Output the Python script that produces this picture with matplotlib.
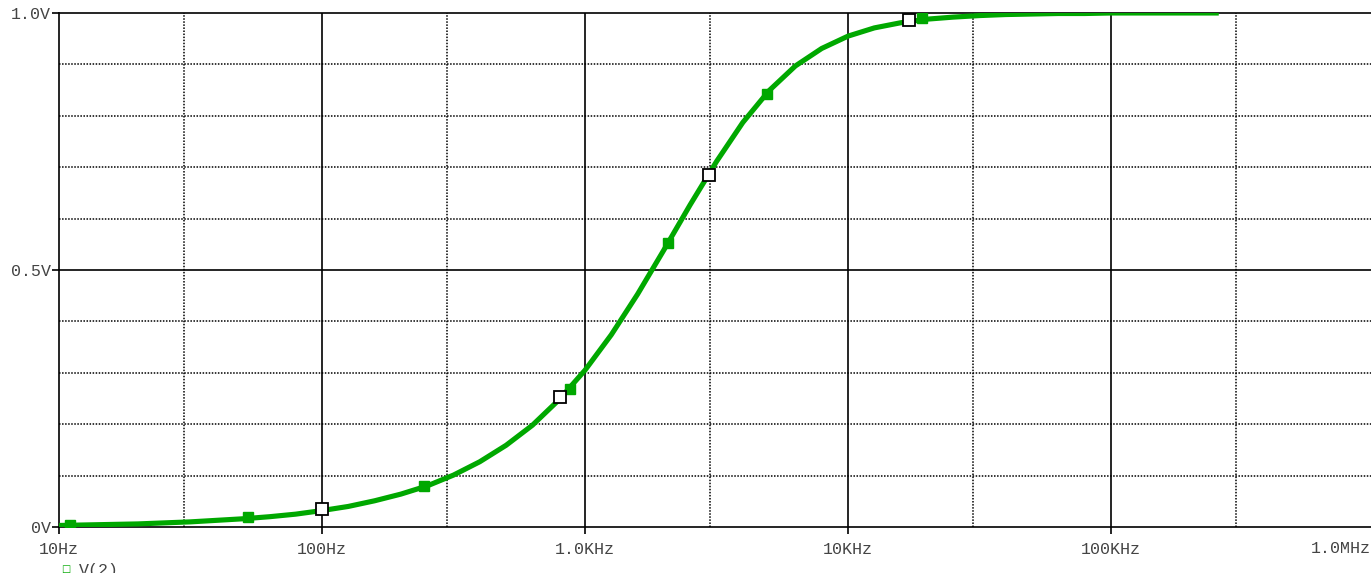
import matplotlib.pyplot as plt
import numpy as np

# trace V(2): sampled 10 points per decade from 10Hz to ~250kHz
freq = 10 ** (1 + np.arange(45) / 10)
v2 = [0.003, 0.004, 0.005, 0.006, 0.008, 0.010, 0.013, 0.016, 0.020, 0.025,
      0.032, 0.040, 0.051, 0.064, 0.080, 0.101, 0.127, 0.159, 0.198, 0.247,
      0.305, 0.374, 0.453, 0.539, 0.627, 0.711, 0.787, 0.849, 0.897, 0.931,
      0.955, 0.971, 0.981, 0.988, 0.992, 0.995, 0.997, 0.998, 0.999, 0.999,
      1.000, 1.000, 1.000, 1.000, 1.000]

# trace markers
green_mk_f = [11.0, 52.5, 244, 878, 2070, 4940, 19100]
green_mk_v = [0.004, 0.019, 0.080, 0.268, 0.553, 0.842, 0.990]
white_mk_f = [100, 800, 2950, 17100]
white_mk_v = [0.035, 0.253, 0.685, 0.986]

xticks = [10, 100, 1e3, 1e4, 1e5]
xtick_labels = ['10Hz', '100Hz', '1.0KHz', '10KHz', '100KHz']
yticks = [0, 0.5, 1.0]
ytick_labels = ['0V', '0.5V', '1.0V']

green = '#00a800'
mono = 'Liberation Mono'
txt = '#444444'

fig = plt.figure(figsize=(13.71, 5.73), dpi=100)
ax = fig.add_axes([59 / 1371, 1 - 527 / 573, 1 - 59 / 1371, 514 / 573])
ax.set_xscale('log')
ax.set_xlim(10, 10 ** (1 + 1312 / 263))
ax.set_ylim(0, 1.0)

# grid: solid at decades / 0.5V, dotted at 3x and every 0.1V
for d in [100, 1e3, 1e4, 1e5]:
    ax.axvline(d, color='black', lw=1.2, zorder=1)
for d in [30, 300, 3e3, 3e4, 3e5]:
    ax.axvline(d, color='black', lw=1.1, ls=(0, (1, 1)), zorder=1)
ax.axhline(0.5, color='black', lw=1.2, zorder=1)
for h in [0.1, 0.2, 0.3, 0.4, 0.6, 0.7, 0.8, 0.9]:
    ax.axhline(h, color='black', lw=1.1, ls=(0, (1, 1)), zorder=1)

ax.plot(freq, v2, color=green, lw=3.7, zorder=3, solid_joinstyle='miter')
ax.plot(green_mk_f, green_mk_v, ls='none', marker='s', ms=7.5,
        color=green, zorder=4)
ax.plot(white_mk_f, white_mk_v, ls='none', marker='s', ms=9,
        mfc='white', mec='black', mew=1.3, zorder=5)

ax.set_xticks(xticks)
ax.set_xticklabels(xtick_labels, family=mono, fontsize=12, color=txt)
ax.minorticks_off()
ax.set_yticks(yticks)
ax.set_yticklabels(ytick_labels, family=mono, fontsize=12, color=txt)
ax.tick_params(axis='both', direction='out', length=5, width=1.2,
               color='black')
ax.tick_params(axis='x', pad=6)
ax.tick_params(axis='y', pad=1)
ax.text(1.0, -0.027, '1.0MHz', transform=ax.transAxes, ha='right', va='top',
        family=mono, fontsize=12, color=txt)

for s in ['left', 'bottom', 'top']:
    ax.spines[s].set_linewidth(1.2)
ax.spines['right'].set_visible(False)

# legend (cut off at the bottom edge, as in the original)
fig.text(66 / 1371, 1 - 569 / 573, '\u25a1', color=green, fontsize=7,
         ha='center', va='center', family='DejaVu Sans')
fig.text(79 / 1371, 1 - 570 / 573, 'V(2)', color=txt, fontsize=12,
         ha='left', va='center', family=mono)

fig.savefig('out.png', dpi=100)
